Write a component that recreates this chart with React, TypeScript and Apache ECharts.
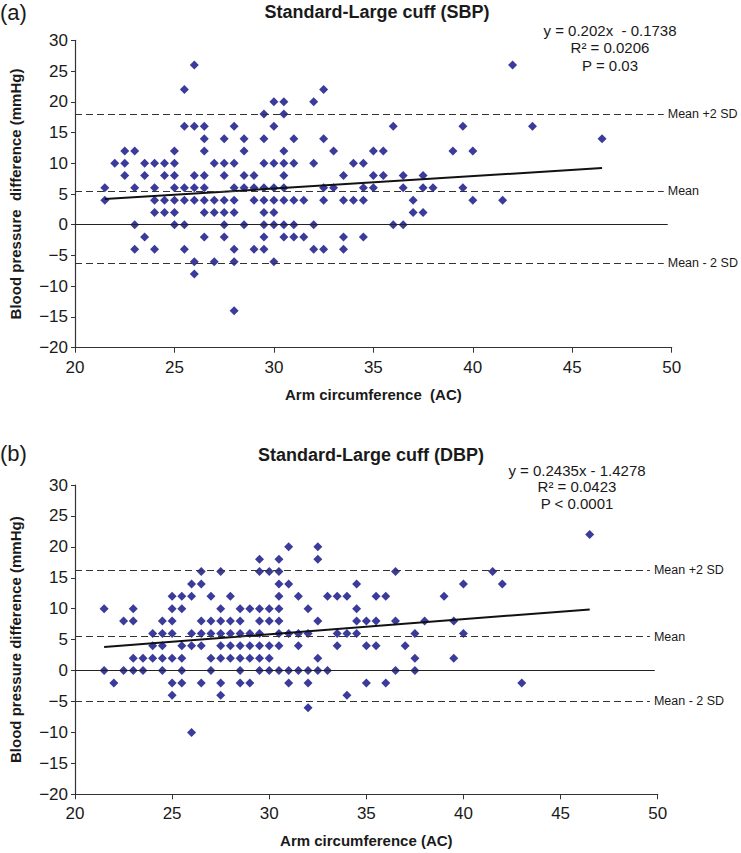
import React, { useEffect, useRef } from 'react';
import * as echarts from 'echarts';

const FONT = "'Liberation Sans', Arial, Helvetica, sans-serif";
const INK = '#1a1a1a';
const DOT = '#0a0a82';

// ---------- Panel (a): SBP ----------
const sbpLevels = [26, 22, 20, 18, 16, 14, 12, 10, 8, 6, 4, 2, 0, -2, -4, -6, -8, -14];
const sbpAC = [
  [26, 42],
  [25.5, 32.5],
  [30, 30.5, 32],
  [29.5, 30.5],
  [25.5, 26, 26.5, 28, 30, 36, 39.5, 43],
  [26.5, 27.5, 28.5, 29.5, 31, 32.5, 46.5],
  [22.5, 23, 25, 26.5, 28.5, 30.5, 33, 35, 35.5, 39, 40],
  [22, 22.5, 23.5, 24, 24.5, 25, 27, 27.5, 28, 29.5, 30, 30.5, 31, 32, 34, 34.5],
  [22.5, 23.5, 24.5, 25, 26, 26.5, 27.5, 28.5, 29, 30.5, 33.5, 35, 35.5, 36.5, 37.5],
  [21.5, 23, 24, 25, 25.5, 26, 26.5, 28, 28.5, 29, 29.5, 30, 30.5, 32.5, 33, 34.5, 35, 36.5, 37.5, 38, 39.5],
  [21.5, 24, 24.5, 25, 25.5, 26, 26.5, 27, 27.5, 28, 29, 29.5, 30, 30.5, 31, 31.5, 32.5, 33.5, 34, 34.5, 37, 40, 41.5],
  [24, 24.5, 25, 26.5, 27, 27.5, 28, 29.5, 30, 37, 37.5],
  [23, 25, 25.5, 27.5, 28.5, 29.5, 30, 30.5, 31, 32, 36, 36.5],
  [23.5, 26.5, 27.5, 29.5, 30.5, 31, 31.5, 33.5, 34.5],
  [23, 24, 25.5, 28, 29, 29.5, 32, 32.5, 33.5],
  [26, 27, 28, 30],
  [26],
  [28],
];
const sbpRefValues = [18, 5.5, -6.3];
const sbpTrend = [[21.5, 4.17], [46.5, 9.22]];
const sbpStats = ['y = 0.202x  - 0.1738', 'R² = 0.0206', 'P = 0.03'];

// ---------- Panel (b): DBP ----------
const dbpLevels = [22, 20, 18, 16, 14, 12, 10, 8, 6, 4, 2, 0, -2, -4, -6, -10];
const dbpAC = [
  [46.5],
  [31, 32.5],
  [29.5, 30.5, 32.5],
  [26.5, 27.5, 29.5, 30, 30.5, 36.5, 41.5],
  [26, 26.5, 30.5, 31, 34.5, 40, 42],
  [25, 25.5, 26, 27, 28, 30.5, 31.5, 33, 33.5, 34, 35.5, 36, 39],
  [21.5, 23, 25, 25.5, 27.5, 28.5, 29, 29.5, 30, 30.5, 32, 34.5],
  [22.5, 23, 24.5, 25, 26.5, 27, 27.5, 28, 28.5, 29.5, 30, 30.5, 32.5, 34.5, 35, 35.5, 36.5, 38, 39.5],
  [24, 24.5, 25, 26, 26.5, 27, 27.5, 28, 28.5, 29, 29.5, 30.5, 31, 31.5, 32, 33.5, 34, 34.5, 37.5, 40],
  [24, 24.5, 25.5, 26, 26.5, 27.5, 28, 28.5, 29, 29.5, 30, 30.5, 31.5, 33.5, 35, 35.5, 37],
  [23, 23.5, 24, 24.5, 25, 25.5, 27, 27.5, 28, 28.5, 29, 29.5, 30, 32.5, 37.5, 39.5],
  [21.5, 22.5, 23, 23.5, 24.5, 25.5, 27, 28.5, 29.5, 30, 30.5, 31, 31.5, 32, 32.5, 33, 36.5, 37.5],
  [22, 25, 25.5, 26.5, 27.5, 28.5, 29, 31, 32, 35, 36, 43],
  [25, 27.5, 34],
  [32],
  [26],
];
const dbpRefValues = [16.2, 5.5, -4.9];
const dbpTrend = [[21.5, 3.81], [46.5, 9.89]];
const dbpStats = ['y = 0.2435x - 1.4278', 'R² = 0.0423', 'P < 0.0001'];

const refLabels = ['Mean +2 SD', 'Mean', 'Mean - 2 SD'];
const xTicks = { min: 20, max: 50, interval: 5 };
const yTicks = { min: -20, max: 30, interval: 5 };

function toPoints(levels: number[], ac: number[][]) {
  const pts: number[][] = [];
  levels.forEach((y, i) => ac[i].forEach((x) => pts.push([x, y])));
  return pts;
}

function refMarkLines(values: number[], xStart: number, xEndDash: number, xEndZero: number) {
  const lines: any[] = values.map((v, i) => [
    {
      coord: [xStart, v],
      lineStyle: { type: [7, 4], color: '#333', width: 1.2 },
      label: {
        show: true,
        position: 'end',
        distance: 4,
        formatter: refLabels[i],
        fontFamily: FONT,
        fontSize: 12.5,
        color: INK,
      },
    },
    { coord: [xEndDash, v] },
  ]);
  lines.push([
    { coord: [xStart, 0], lineStyle: { type: 'solid', color: '#222', width: 1 }, label: { show: false } },
    { coord: [xEndZero, 0] },
  ]);
  return lines;
}

const fmtTick = (v: number) => (v < 0 ? '\u2212' + Math.abs(v) : String(v));

function makeXAxis(gridIndex: number, name: string) {
  return {
    type: 'value',
    gridIndex,
    ...xTicks,
    name,
    nameLocation: 'middle',
    nameGap: 39,
    nameTextStyle: { fontFamily: FONT, fontSize: 15, fontWeight: 'bold', color: INK },
    axisLine: { onZero: false, lineStyle: { color: '#333', width: 1.2 } },
    axisTick: { show: true, inside: false, length: 5, lineStyle: { color: '#333' } },
    axisLabel: { fontFamily: FONT, fontSize: 17, color: INK, margin: 11, formatter: fmtTick },
    splitLine: { show: false },
  };
}

function makeYAxis(gridIndex: number, name: string) {
  return {
    type: 'value',
    gridIndex,
    ...yTicks,
    name,
    nameLocation: 'middle',
    nameGap: 52,
    nameTextStyle: { fontFamily: FONT, fontSize: 15, fontWeight: 'bold', color: INK },
    axisLine: { onZero: false, lineStyle: { color: '#333', width: 1.2 } },
    axisTick: { show: true, inside: false, length: 4, lineStyle: { color: '#333' } },
    axisLabel: { fontFamily: FONT, fontSize: 17, color: INK, margin: 7, formatter: fmtTick },
    splitLine: { show: false },
  };
}

function statTexts(lines: string[], cx: number, y0: number, step: number) {
  return lines.map((t, i) => ({
    type: 'text',
    x: cx,
    y: y0 + i * step,
    style: {
      text: t,
      fontFamily: FONT,
      fontSize: 15,
      fill: INK,
      align: 'center',
      verticalAlign: 'middle',
      textAlign: 'center',
      textVerticalAlign: 'middle',
    },
  }));
}

export default function App() {
  const ref = useRef<HTMLDivElement>(null);

  useEffect(() => {
    if (!ref.current) return;
    const chart = echarts.init(ref.current, null, { renderer: 'svg' });

    const option: any = {
      animation: false,
      backgroundColor: '#ffffff',
      title: [
        {
          text: 'Standard-Large cuff (SBP)',
          left: 372,
          top: -2,
          textAlign: 'center',
          textStyle: { fontFamily: FONT, fontSize: 18, fontWeight: 'bold', color: INK },
        },
        {
          text: 'Standard-Large cuff (DBP)',
          left: 366,
          top: 441,
          textAlign: 'center',
          textStyle: { fontFamily: FONT, fontSize: 18, fontWeight: 'bold', color: INK },
        },
      ],
      grid: [
        { left: 70.7, top: 40.3, width: 601, height: 307.4, containLabel: false },
        { left: 71.7, top: 485, width: 586, height: 309.3, containLabel: false },
      ],
      xAxis: [makeXAxis(0, 'Arm circumference  (AC)'), makeXAxis(1, 'Arm circumference (AC)')],
      yAxis: [makeYAxis(0, 'Blood pressure  difference (mmHg)'), makeYAxis(1, 'Blood pressure difference (mmHg)')],
      series: [
        {
          type: 'scatter',
          xAxisIndex: 0,
          yAxisIndex: 0,
          symbol: 'diamond',
          symbolSize: 9,
          itemStyle: { color: DOT },
          data: toPoints(sbpLevels, sbpAC),
          markLine: {
            silent: true,
            symbol: ['none', 'none'],
            data: refMarkLines(sbpRefValues, 20, 49.6, 49.8),
          },
          z: 3,
        },
        {
          type: 'line',
          xAxisIndex: 0,
          yAxisIndex: 0,
          data: sbpTrend,
          showSymbol: false,
          symbol: 'none',
          lineStyle: { color: '#111', width: 2 },
          z: 4,
        },
        {
          type: 'scatter',
          xAxisIndex: 1,
          yAxisIndex: 1,
          symbol: 'diamond',
          symbolSize: 9,
          itemStyle: { color: DOT },
          data: toPoints(dbpLevels, dbpAC),
          markLine: {
            silent: true,
            symbol: ['none', 'none'],
            data: refMarkLines(dbpRefValues, 20, 49.6, 49.85),
          },
          z: 3,
        },
        {
          type: 'line',
          xAxisIndex: 1,
          yAxisIndex: 1,
          data: dbpTrend,
          showSymbol: false,
          symbol: 'none',
          lineStyle: { color: '#111', width: 2 },
          z: 4,
        },
      ],
      graphic: [
        {
          type: 'text',
          x: 0,
          y: 12,
          style: { text: '(a)', fontFamily: FONT, fontSize: 22, fill: INK, verticalAlign: 'middle', textVerticalAlign: 'middle' },
        },
        {
          type: 'text',
          x: 0,
          y: 453,
          style: { text: '(b)', fontFamily: FONT, fontSize: 22, fill: INK, verticalAlign: 'middle', textVerticalAlign: 'middle' },
        },
        ...statTexts(sbpStats, 610, 30, 17.5),
        ...statTexts(dbpStats, 577, 470, 16.5),
      ],
    };

    chart.setOption(option);
    return () => chart.dispose();
  }, []);

  return (
    <div
      ref={ref}
      style={{ position: 'absolute', left: 0, top: 0, width: 741, height: 853, background: '#fff' }}
    />
  );
}
